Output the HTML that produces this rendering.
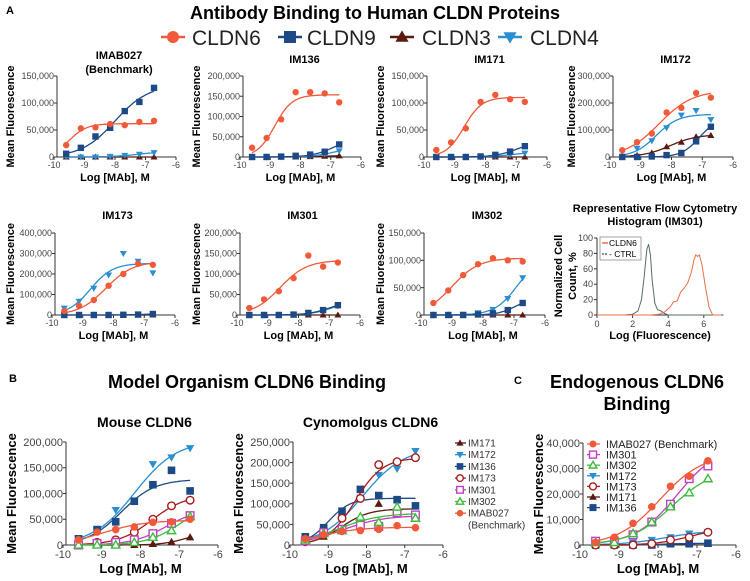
<!DOCTYPE html>
<html><head><meta charset="utf-8">
<style>
html,body{margin:0;padding:0;background:#fff;}
svg{display:block;font-family:"Liberation Sans",Arial,sans-serif;}
</style></head>
<body>
<svg id="fig" width="750" height="581" viewBox="0 0 750 581" xmlns="http://www.w3.org/2000/svg">
<text x="6" y="14" font-size="11" font-weight="bold">A</text>
<text x="375" y="19" font-size="18" font-weight="bold" text-anchor="middle">Antibody Binding to Human CLDN Proteins</text>
<g font-size="21" fill="#222">
 <text x="192" y="45">CLDN6</text>
 <text x="307" y="45">CLDN9</text>
 <text x="422" y="45">CLDN3</text>
 <text x="530" y="45">CLDN4</text>
</g>
<text x="9" y="382" font-size="11" font-weight="bold">B</text>
<text x="247" y="388" font-size="18" font-weight="bold" text-anchor="middle">Model Organism CLDN6 Binding</text>
<text x="514" y="384" font-size="11" font-weight="bold">C</text>
<text x="637" y="388" font-size="18" font-weight="bold" text-anchor="middle">Endogenous CLDN6</text>
<text x="637" y="410" font-size="18" font-weight="bold" text-anchor="middle">Binding</text>
</svg>
<script>
const conc = [-9.6,-9.12,-8.64,-8.16,-7.68,-7.2,-6.72];
const imab027_cldn6 = [22000,53000,55000,61000,59000,65000,67000];
const imab027_cldn9 = [6000,17000,38000,54000,85000,102000,128000];
const imab027_cldn3 = [0,0,0,0,0,0,0];
const imab027_cldn4 = [0,0,0,1000,3000,5000,8000];
const im136_cldn6 = [23000,47000,93000,160000,160000,157000,135000];
const im136_cldn9 = [0,0,1000,3000,6000,13000,31000];
const im136_cldn3 = [0,0,0,0,1000,2000,3000];
const im136_cldn4 = [0,0,0,1000,3000,7000,15000];
const im171_cldn6 = [13000,27000,53000,102000,115000,107000,102000];
const im171_cldn9 = [0,0,0,1000,4000,10000,20000];
const im171_cldn3 = [0,0,0,0,0,0,0];
const im171_cldn4 = [0,0,0,0,2000,4000,7000];
const im172_cldn6 = [25000,55000,87000,165000,182000,237000,220000];
const im172_cldn9 = [0,0,2000,7000,15000,58000,112000];
const im172_cldn3 = [2000,6000,15000,38000,55000,75000,80000];
const im172_cldn4 = [20000,32000,60000,108000,155000,172000,138000];
const im173_cldn6 = [20000,45000,73000,143000,200000,250000,245000];
const im173_cldn9 = [0,0,0,0,1000,2000,5000];
const im173_cldn3 = [0,0,0,0,0,0,0];
const im173_cldn4 = [33000,67000,130000,195000,300000,262000,205000];
const im301_cldn6 = [17000,38000,58000,90000,145000,118000,128000];
const im301_cldn9 = [0,0,0,1000,5000,12000,24000];
const im301_cldn3 = [0,0,0,0,0,0,0];
const im301_cldn4 = [0,0,0,1000,4000,10000,22000];
const im302_cldn6 = [22000,45000,73000,93000,104000,100000,98000];
const im302_cldn9 = [0,0,0,1000,3000,9000,22000];
const im302_cldn3 = [0,0,0,0,0,0,0];
const im302_cldn4 = [0,0,1000,4000,10000,30000,68000];
const mouse_im171 = [0,0,0,0,2000,6000,15000];
const mouse_im172 = [12000,28000,68000,85000,157000,170000,188000];
const mouse_im136 = [12000,30000,45000,85000,117000,145000,105000];
const mouse_im173 = [5000,5000,10000,25000,50000,76000,87000];
const mouse_im301 = [0,3000,5000,10000,22000,42000,57000];
const mouse_im302 = [0,0,0,5000,15000,28000,55000];
const mouse_imab027 = [10000,25000,30000,35000,44000,45000,50000];
const cyno_im171 = [15000,20000,40000,70000,100000,90000,70000];
const cyno_im172 = [10000,35000,65000,115000,170000,185000,228000];
const cyno_im136 = [20000,42000,82000,135000,120000,110000,95000];
const cyno_im173 = [8000,28000,65000,113000,195000,202000,212000];
const cyno_im301 = [10000,30000,38000,48000,45000,78000,73000];
const cyno_im302 = [12000,28000,35000,68000,55000,92000,65000];
const cyno_imab027 = [15000,25000,33000,35000,38000,47000,42000];
const endo_imab027 = [1000,3000,8500,15000,23000,27000,33000];
const endo_im301 = [1500,1500,4000,9000,16000,26000,31000];
const endo_im302 = [1000,1000,4500,9000,15000,20500,26000];
const endo_im172 = [500,500,1000,2000,3000,4500,5000];
const endo_im173 = [0,0,0,500,2000,3000,5000];
const endo_im171 = [0,0,0,0,500,500,500];
const endo_im136 = [0,0,0,0,500,500,700];
const histX = [0,1.5,2.0,2.3,2.5,2.65,2.8,2.9,3.0,3.1,3.25,3.4,3.6,3.8,4.0,4.3,7];
const histCtrl = [0,0,1,5,20,50,85,92,78,45,15,7,5,2,0,0,0];
const histX6 = [0,3.0,3.5,3.8,4.1,4.3,4.5,4.7,4.9,5.1,5.3,5.45,5.55,5.65,5.75,5.9,6.1,6.3,6.5,7];
const histC6 = [0,0,1,4,10,17,18,30,35,42,55,72,78,76,78,65,35,10,0,0];

const NS="http://www.w3.org/2000/svg";
const svg=document.getElementById('fig');
function mk(tag,attrs,parent){const e=document.createElementNS(NS,tag);for(const k in attrs)e.setAttribute(k,attrs[k]);(parent||svg).appendChild(e);return e;}
function fmt(v){return v.toLocaleString('en-US');}
const C6='#f05a3a',C9='#1d4a86',C3='#5a1a12',C4='#2a8ed0',R173='#a51c1c',M301='#c23fc2',G302='#3dbb3d';

function marker(g,type,cx,cy,r,color){
  let e;
  const open=type.charAt(0)==='o';const t=open?type.slice(1):type;
  const st=open?{fill:'#fff',stroke:color,'stroke-width':1.4}:{fill:color};
  if(t==='c'){e=mk('circle',Object.assign({cx:cx,cy:cy,r:r},st),g);}
  else if(t==='s'){e=mk('rect',Object.assign({x:cx-r,y:cy-r,width:2*r,height:2*r},st),g);}
  else if(t==='u'){e=mk('polygon',Object.assign({points:`${cx},${cy-r*1.1} ${cx-r*1.1},${cy+r*0.8} ${cx+r*1.1},${cy+r*0.8}`},st),g);}
  else {e=mk('polygon',Object.assign({points:`${cx},${cy+r*1.1} ${cx-r*1.1},${cy-r*0.8} ${cx+r*1.1},${cy-r*0.8}`},st),g);}
  
  
}
function fit(vals){
  let best=null;let top0=Math.max.apply(null,vals);if(top0<=0)top0=1;
  const hs=[0.8,1,1.2,1.5];
  for(let ti=0;ti<=25;ti++){
    const top=top0*(0.6+ti*0.04);
    for(let ei=0;ei<=76;ei++){
      const ec=-9.8+ei*0.05;
      for(let hi=0;hi<4;hi++){
        const h=hs[hi];let err=0;
        for(let i=0;i<vals.length;i++){const p=top/(1+Math.pow(10,(ec-conc[i])*h));err+=(p-vals[i])*(p-vals[i]);}
        if(!best||err<best.err)best={top:top,ec:ec,h:h,err:err};
      }
    }
  }
  return best;
}
function panel(cfg){
  const g=mk('g',{});
  
  
  const xs=v=>cfg.xa+(v+10)/4*(cfg.xb-cfg.xa);
  const ys=v=>cfg.yb-v/cfg.ymax*(cfg.yb-cfg.yt);
  const fs=cfg.fs||9;
  const ya=mk('line',{x1:cfg.xa+3,y1:cfg.yt,x2:cfg.xa+3,y2:cfg.yb,stroke:'#333','stroke-width':1},g);
  
  const xa=mk('line',{x1:cfg.xa,y1:cfg.yb,x2:cfg.xb,y2:cfg.yb,stroke:'#333','stroke-width':1},g);
  
  const nT=Math.round(cfg.ymax/cfg.step);
  for(let k=0;k<=nT;k++){
    const v=k*cfg.step;const y=ys(v);
    mk('line',{x1:cfg.xa,y1:y,x2:cfg.xa+3,y2:y,stroke:'#333'},g);
    const t=mk('text',{x:cfg.xa,y:y+fs*0.35,'font-size':fs,'text-anchor':'end',fill:'#444'},g);
    t.textContent=fmt(v);
    
  }
  for(let v=-10;v<=-6;v++){
    const x=xs(v);
    mk('line',{x1:x,y1:cfg.yb,x2:x,y2:cfg.yb+3,stroke:'#333'},g);
    const t=mk('text',{x:x,y:cfg.yb+fs+2,'font-size':fs,'text-anchor':'middle',fill:'#444'},g);
    t.textContent=String(v);
    
  }
  const xt=mk('text',{x:(cfg.xa+cfg.xb)/2,y:cfg.xty,'font-size':cfg.tfs||11,'font-weight':'bold','text-anchor':'middle'},g);
  xt.textContent='Log [MAb], M';
  
  const cy=(cfg.yt+cfg.yb)/2;
  const yl=mk('text',{x:cfg.ylx,y:cy,'font-size':cfg.tfs||11,'font-weight':'bold','text-anchor':'middle',transform:'rotate(-90 '+cfg.ylx+' '+cy+')'},g);
  yl.setAttribute('xml:space','preserve');
  yl.textContent='Mean  Fluorescence';
  
  cfg.title.forEach((s,i)=>{
    const t=mk('text',{x:(cfg.xa+cfg.xb)/2+4,y:cfg.ty+i*(cfg.ttf||11)*1.25,'font-size':cfg.ttf||11,'font-weight':'bold','text-anchor':'middle'},g);
    t.textContent=s;
  });
  cfg.series.forEach(s=>{
    const sg=mk('g',{},g);
    
    
    const f=fit(s.vals);
    let d='';
    for(let i=0;i<=60;i++){const xv=conc[0]+(conc[6]-conc[0])*i/60;const yv=f.top/(1+Math.pow(10,(f.ec-xv)*f.h));d+=(i?'L':'M')+xs(xv).toFixed(1)+','+ys(Math.max(0,yv)).toFixed(1);}
    const p=mk('path',{d:d,fill:'none',stroke:s.color,'stroke-width':1.3},sg);
    
    s.vals.forEach((v,i)=>marker(sg,s.m,xs(conc[i]),ys(v),cfg.r||3.2,s.color));
  });
}
const A=(c6,c9,c3,c4)=>[{label:'cldn3',vals:c3,color:C3,m:'u'},{label:'cldn4',vals:c4,color:C4,m:'d'},{label:'cldn9',vals:c9,color:C9,m:'s'},{label:'cldn6',vals:c6,color:C6,m:'c'}];
panel({name:'chart-imab027',xa:54,xb:176,yt:76,yb:157,ymax:150000,step:50000,xty:181,ylx:14,title:['IMAB027','(Benchmark)'],ty:59,series:A(imab027_cldn6,imab027_cldn9,imab027_cldn3,imab027_cldn4)});
panel({name:'chart-im136',xa:240,xb:361,yt:76,yb:157,ymax:200000,step:50000,xty:181,ylx:200,title:['IM136'],ty:63,series:A(im136_cldn6,im136_cldn9,im136_cldn3,im136_cldn4)});
panel({name:'chart-im171',xa:424,xb:547,yt:76,yb:157,ymax:150000,step:50000,xty:181,ylx:384,title:['IM171'],ty:63,series:A(im171_cldn6,im171_cldn9,im171_cldn3,im171_cldn4)});
panel({name:'chart-im172',xa:610,xb:733,yt:76,yb:157,ymax:300000,step:100000,xty:181,ylx:575,title:['IM172'],ty:63,series:A(im172_cldn6,im172_cldn9,im172_cldn3,im172_cldn4)});
panel({name:'chart-im173',xa:52,xb:175,yt:233,yb:315,ymax:400000,step:100000,xty:339,ylx:14,title:['IM173'],ty:219,series:A(im173_cldn6,im173_cldn9,im173_cldn3,im173_cldn4)});
panel({name:'chart-im301',xa:237,xb:360,yt:233,yb:315,ymax:200000,step:50000,xty:339,ylx:200,title:['IM301'],ty:219,series:A(im301_cldn6,im301_cldn9,im301_cldn3,im301_cldn4)});
panel({name:'chart-im302',xa:421,xb:545,yt:233,yb:315,ymax:150000,step:50000,xty:339,ylx:384,title:['IM302'],ty:219,series:A(im302_cldn6,im302_cldn9,im302_cldn3,im302_cldn4)});
const B=(a,b,c,d,e,f,g)=>[{label:'im171',vals:a,color:C3,m:'u'},{label:'im172',vals:b,color:C4,m:'d'},{label:'im136',vals:c,color:C9,m:'s'},{label:'im173',vals:d,color:R173,m:'oc'},{label:'im301',vals:e,color:M301,m:'os'},{label:'im302',vals:f,color:G302,m:'ou'},{label:'imab027',vals:g,color:C6,m:'c'}];
panel({name:'chart-mouse-cldn6',xa:63,xb:218,yt:442,yb:545,ymax:200000,step:50000,xty:573,ylx:16,title:['Mouse CLDN6'],ty:427,ttf:14,fs:11,tfs:13,r:3.8,series:B(mouse_im171,mouse_im172,mouse_im136,mouse_im173,mouse_im301,mouse_im302,mouse_imab027)});
panel({name:'chart-cyno-cldn6',xa:290,xb:443,yt:442,yb:545,ymax:250000,step:50000,xty:573,ylx:243,title:['Cynomolgus CLDN6'],ty:427,ttf:14,fs:11,tfs:13,r:3.8,series:B(cyno_im171,cyno_im172,cyno_im136,cyno_im173,cyno_im301,cyno_im302,cyno_imab027)});
panel({name:'chart-endogenous-cldn6',xa:580,xb:736,yt:443,yb:545,ymax:40000,step:10000,xty:573,ylx:543,title:[],ty:0,fs:11,tfs:13,r:3.8,series:B(endo_im171,endo_im172,endo_im136,endo_im173,endo_im301,endo_im302,endo_imab027)});

const tl=mk('g',{});
[[173,C6,'c'],[290,C9,'s'],[402,C3,'u'],[510,C4,'d']].forEach(a=>{
  mk('line',{x1:a[0]-12,y1:37,x2:a[0]+12,y2:37,stroke:a[1],'stroke-width':2.5},tl);
  marker(tl,a[2],a[0],37,6,a[1]);
});
const bl=mk('g',{'font-size':10,fill:'#333'});
[['IM171',C3,'u'],['IM172',C4,'d'],['IM136',C9,'s'],['IM173',R173,'oc'],['IM301',M301,'os'],['IM302',G302,'ou'],['IMAB027',C6,'c']].forEach((a,i)=>{
  const y=443+i*11.7;
  mk('line',{x1:455,y1:y,x2:466,y2:y,stroke:a[1],'stroke-width':1.3},bl);
  marker(bl,a[2],460,y,3.3,a[1]);
  const t=mk('text',{x:468,y:y+3.5},bl);t.textContent=a[0];
  
});
const bt=mk('text',{x:468,y:443+7*11.7+3.5,'font-size':10,fill:'#333'});bt.textContent='(Benchmark)';

const cl=mk('g',{'font-size':11,fill:'#222'});
[['IMAB027 (Benchmark)',C6,'c'],['IM301',M301,'os'],['IM302',G302,'ou'],['IM172',C4,'d'],['IM173',R173,'oc'],['IM171',C3,'u'],['IM136',C9,'s']].forEach((a,i)=>{
  const y=444+i*10.6;
  mk('line',{x1:587,y1:y,x2:600,y2:y,stroke:a[1],'stroke-width':1.3},cl);
  marker(cl,a[2],593,y,3.5,a[1]);
  const t=mk('text',{x:606,y:y+4},cl);t.textContent=a[0];
  
});
(function(){
  const g=mk('g',{});
  const xs=v=>597+v*17.8, ys=v=>315-v*0.77;
  const t1=mk('text',{x:655,y:212,'font-size':11,'font-weight':'bold','text-anchor':'middle'},g);t1.textContent='Representative Flow Cytometry';
  
  const t2=mk('text',{x:655,y:225,'font-size':11,'font-weight':'bold','text-anchor':'middle'},g);t2.textContent='Histogram (IM301)';
  
  mk('line',{x1:xs(0),y1:ys(0),x2:xs(7.1),y2:ys(0),stroke:'#333'},g);
  mk('line',{x1:xs(0),y1:ys(0),x2:xs(0),y2:ys(100),stroke:'#333'},g);
  for(let v=0;v<=100;v+=20){mk('line',{x1:xs(0)-3,y1:ys(v),x2:xs(0),y2:ys(v),stroke:'#333'},g);const t=mk('text',{x:xs(0)-4,y:ys(v)+3,'font-size':9,'text-anchor':'end',fill:'#444'},g);t.textContent=v;}
  for(let v=0;v<=6;v+=2){mk('line',{x1:xs(v),y1:ys(0),x2:xs(v),y2:ys(0)+3,stroke:'#333'},g);const t=mk('text',{x:xs(v),y:ys(0)+12,'font-size':9,'text-anchor':'middle',fill:'#444'},g);t.textContent=v;}
  const xt=mk('text',{x:660,y:339,'font-size':11,'font-weight':'bold','text-anchor':'middle'},g);xt.textContent='Log (Fluorescence)';
  
  [['Normalized Cell',562],['Count, %',576]].forEach(a=>{const t=mk('text',{x:a[1],y:276,'font-size':11,'font-weight':'bold','text-anchor':'middle',transform:'rotate(-90 '+a[1]+' 276)'},g);t.textContent=a[0];});
  const line=(X,Y,c,n)=>{const p=mk('path',{d:X.map((x,i)=>(i?'L':'M')+xs(x).toFixed(1)+','+ys(Y[i]).toFixed(1)).join(''),fill:'none',stroke:c,'stroke-width':1},g);};
  line(histX,histCtrl,'#5a6a6a','ctrl-histogram');
  line(histX6,histC6,'#e8704a','cldn6-histogram');
  const lb=mk('rect',{x:600,y:237,width:41,height:23,fill:'#fff',stroke:'#666','stroke-width':0.6},g);
  
  mk('line',{x1:602,y1:243,x2:608,y2:243,stroke:'#e8704a','stroke-width':1.5},g);
  mk('line',{x1:602,y1:254,x2:608,y2:254,stroke:'#5a6a6a','stroke-width':1.5,'stroke-dasharray':'2,1'},g);
  const a=mk('text',{x:609,y:246,'font-size':8.5},g);a.textContent='CLDN6';
  const b=mk('text',{x:609,y:257,'font-size':8.5},g);b.textContent='- CTRL';
})();
</script>
</body></html>
